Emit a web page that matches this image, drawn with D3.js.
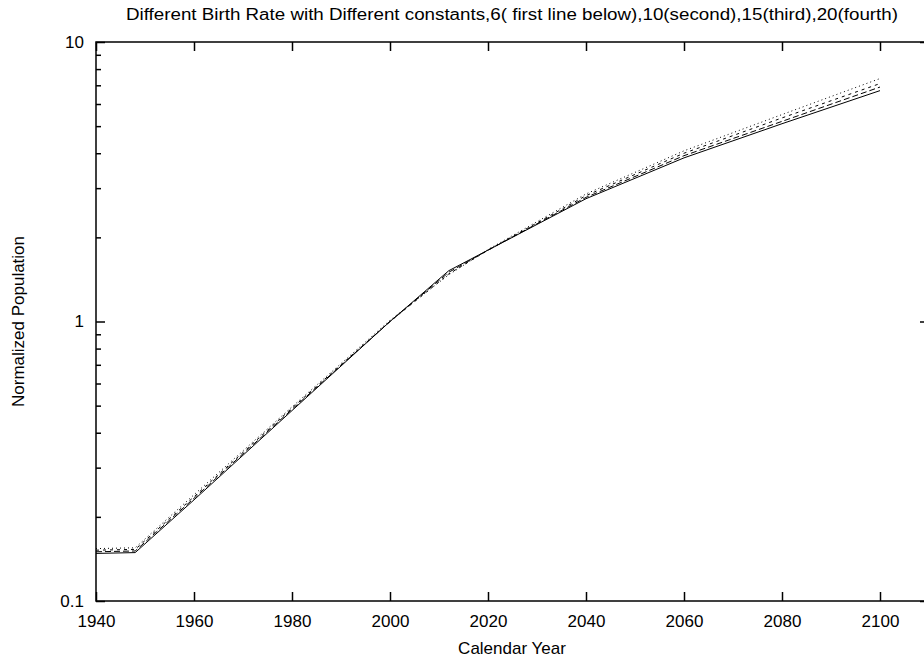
<!DOCTYPE html>
<html>
<head>
<meta charset="utf-8">
<script src="https://cdnjs.cloudflare.com/ajax/libs/d3/7.8.5/d3.min.js"></script>
<style>
  body { margin: 0; background: #fff; }
  text { font-family: 'Liberation Sans', Arial, sans-serif; fill: #000; }
</style>
</head>
<body>
<script>
// data
var years = [1940, 1948, 1960, 1980, 2000, 2012, 2020, 2040, 2060, 2080, 2100];
var const6 = [0.148, 0.149, 0.230, 0.480, 1.00, 1.52, 1.80, 2.75, 3.85, 5.10, 6.70];
var const10 = [0.150, 0.151, 0.233, 0.485, 1.00, 1.50, 1.80, 2.78, 3.92, 5.20, 6.90];
var const15 = [0.152, 0.153, 0.236, 0.490, 1.00, 1.48, 1.80, 2.82, 4.00, 5.35, 7.10];
var const20 = [0.154, 0.155, 0.240, 0.495, 1.01, 1.47, 1.81, 2.86, 4.08, 5.50, 7.40];
var xTicks = [1940, 1960, 1980, 2000, 2020, 2040, 2060, 2080, 2100];
var yTicks = [0.1, 1, 10];

var series = [
    { values: const6, dash: null },
    { values: const10, dash: '6,3' },
    { values: const15, dash: '3,4' },
    { values: const20, dash: '1,3' }
];

var mLeft = 96, mRight = 929, mTop = 42, mBottom = 601;

//create scales
var xscale = d3.scaleLinear().domain([1940, 2110]).range([mLeft, mRight]);
var yscale = d3.scaleLog().domain([0.1, 10]).range([mBottom, mTop]);

var svg = d3.select('body')
    .append('svg')
    .attr('width', 924)
    .attr('height', 660);

// minor ticks 2..9 on each decade
var minor = [];
[0.1, 1].forEach(function (d) {
    for (var i = 2; i <= 9; i++) minor.push(d * i);
});

//axes, ticks pointing inwards like gnuplot
var xaxisB = d3.axisBottom(xscale).tickValues(xTicks).tickSizeInner(-9).tickSizeOuter(0).tickPadding(14).tickFormat(d3.format('d'));
var xaxisT = d3.axisTop(xscale).tickValues(xTicks).tickSizeInner(-9).tickSizeOuter(0).tickFormat('');
var yaxisL = d3.axisLeft(yscale).tickValues(yTicks).tickSizeInner(-9).tickSizeOuter(0).tickPadding(12).tickFormat(function (d) { return d; });
var yaxisR = d3.axisRight(yscale).tickValues(yTicks).tickSizeInner(-9).tickSizeOuter(0).tickFormat('');
var yminL = d3.axisLeft(yscale).tickValues(minor).tickSizeInner(-5).tickSizeOuter(0).tickFormat('');
var yminR = d3.axisRight(yscale).tickValues(minor).tickSizeInner(-5).tickSizeOuter(0).tickFormat('');

svg.append('g').attr('transform', 'translate(0,' + mBottom + ')').call(xaxisB);
svg.append('g').attr('transform', 'translate(0,' + mTop + ')').call(xaxisT);
svg.append('g').attr('transform', 'translate(' + mLeft + ',0)').call(yaxisL);
svg.append('g').attr('transform', 'translate(' + mRight + ',0)').call(yaxisR);
svg.append('g').attr('transform', 'translate(' + mLeft + ',0)').call(yminL);
svg.append('g').attr('transform', 'translate(' + mRight + ',0)').call(yminR);

svg.selectAll('.domain').remove();
svg.selectAll('.tick line').attr('stroke', '#000').attr('stroke-width', 1.5);
svg.selectAll('.tick text').attr('font-size', '17px').attr('font-family', "'Liberation Sans', Arial, sans-serif");

// frame
svg.append('rect')
    .attr('x', mLeft).attr('y', mTop)
    .attr('width', mRight - mLeft).attr('height', mBottom - mTop)
    .attr('fill', 'none')
    .attr('stroke', '#000')
    .attr('stroke-width', 1.5);

//the four lines
var line = d3.line()
    .x(function (d, i) { return xscale(years[i]); })
    .y(function (d) { return yscale(d); });

svg.selectAll('path.series')
    .data(series)
    .enter().append('path')
    .attr('class', 'series')
    .attr('d', function (d) { return line(d.values); })
    .attr('fill', 'none')
    .attr('stroke', '#000')
    .attr('stroke-width', 1)
    .attr('stroke-dasharray', function (d) { return d.dash; });

//axis labels
svg.append('text')
    .attr('x', 512)
    .attr('y', 654)
    .attr('text-anchor', 'middle')
    .attr('font-size', '17px')
    .text('Calendar Year');

svg.append('text')
    .attr('transform', 'translate(24,' + yscale(1) + ') rotate(-90)')
    .attr('text-anchor', 'middle')
    .attr('font-size', '17px')
    .text('Normalized Population');

//title
svg.append('text')
    .attr('x', 512)
    .attr('y', 20)
    .attr('text-anchor', 'middle')
    .attr('font-size', '16px')
    .attr('textLength', 772)
    .attr('lengthAdjust', 'spacingAndGlyphs')
    .text('Different Birth Rate with Different constants,6( first line below),10(second),15(third),20(fourth)');
</script>
</body>
</html>
